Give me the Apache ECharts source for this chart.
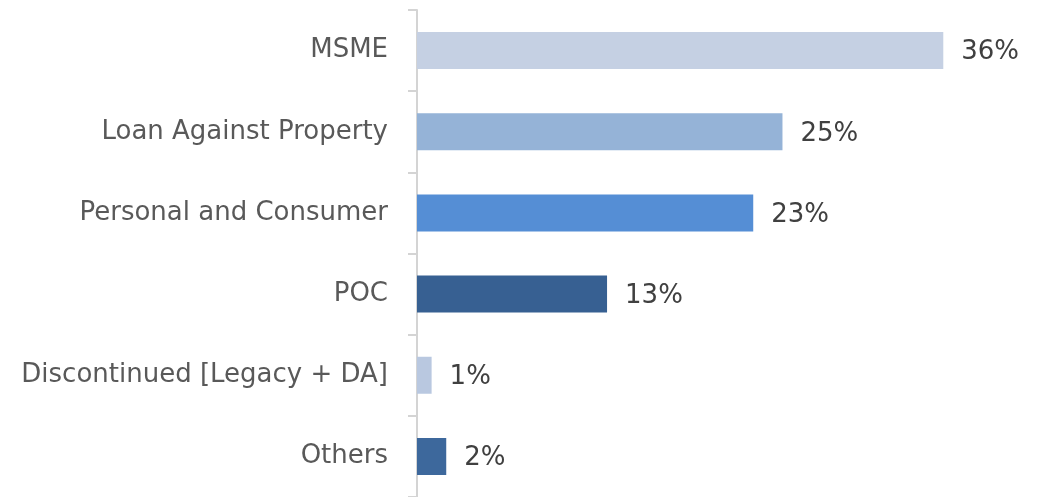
<!DOCTYPE html>
<html>
<head>
<meta charset="utf-8">
<script src="https://cdn.jsdelivr.net/npm/echarts@6/dist/echarts.min.js"></script>
<style>
  html, body { margin: 0; padding: 0; background: #fff; }
  #chart { width: 1045px; height: 497px; }
</style>
</head>
<body>
<div id="chart"></div>
<script>
var categories = ['MSME', 'Loan Against Property', 'Personal and Consumer', 'POC', 'Discontinued [Legacy + DA]', 'Others'];
var shares = [36, 25, 23, 13, 1, 2];
var barColors = ['#c5d0e3', '#95b3d7', '#558ed5', '#376092', '#b9c8e0', '#3d689c'];

var myChart = echarts.init(document.getElementById('chart'));
var option = {
    animation: false,
    grid: {
        left: 417,
        right: 14,
        top: 10,
        height: 492
    },
    xAxis: {
        type: 'value',
        min: 0,
        max: 42,
        show: false
    },
    yAxis: {
        type: 'category',
        inverse: true,
        data: categories,
        axisLine: { show: true, lineStyle: { color: '#d4d4d4', width: 2 } },
        axisTick: { show: true, length: 9, lineStyle: { color: '#d4d4d4', width: 2 } },
        axisLabel: {
            margin: 29,
            color: '#595959',
            fontSize: 26,
            fontFamily: 'DejaVu Sans',
            padding: [4, 0, 0, 0]
        }
    },
    series: [{
        type: 'bar',
        barWidth: 37,
        data: shares.map(function (v, i) {
            return { value: v, itemStyle: { color: barColors[i] } };
        }),
        label: {
            show: true,
            position: 'right',
            distance: 18,
            offset: [0, 2],
            formatter: '{c}%',
            color: '#404040',
            fontSize: 26,
            fontFamily: 'DejaVu Sans'
        }
    }]
};
myChart.setOption(option);
</script>
</body>
</html>
